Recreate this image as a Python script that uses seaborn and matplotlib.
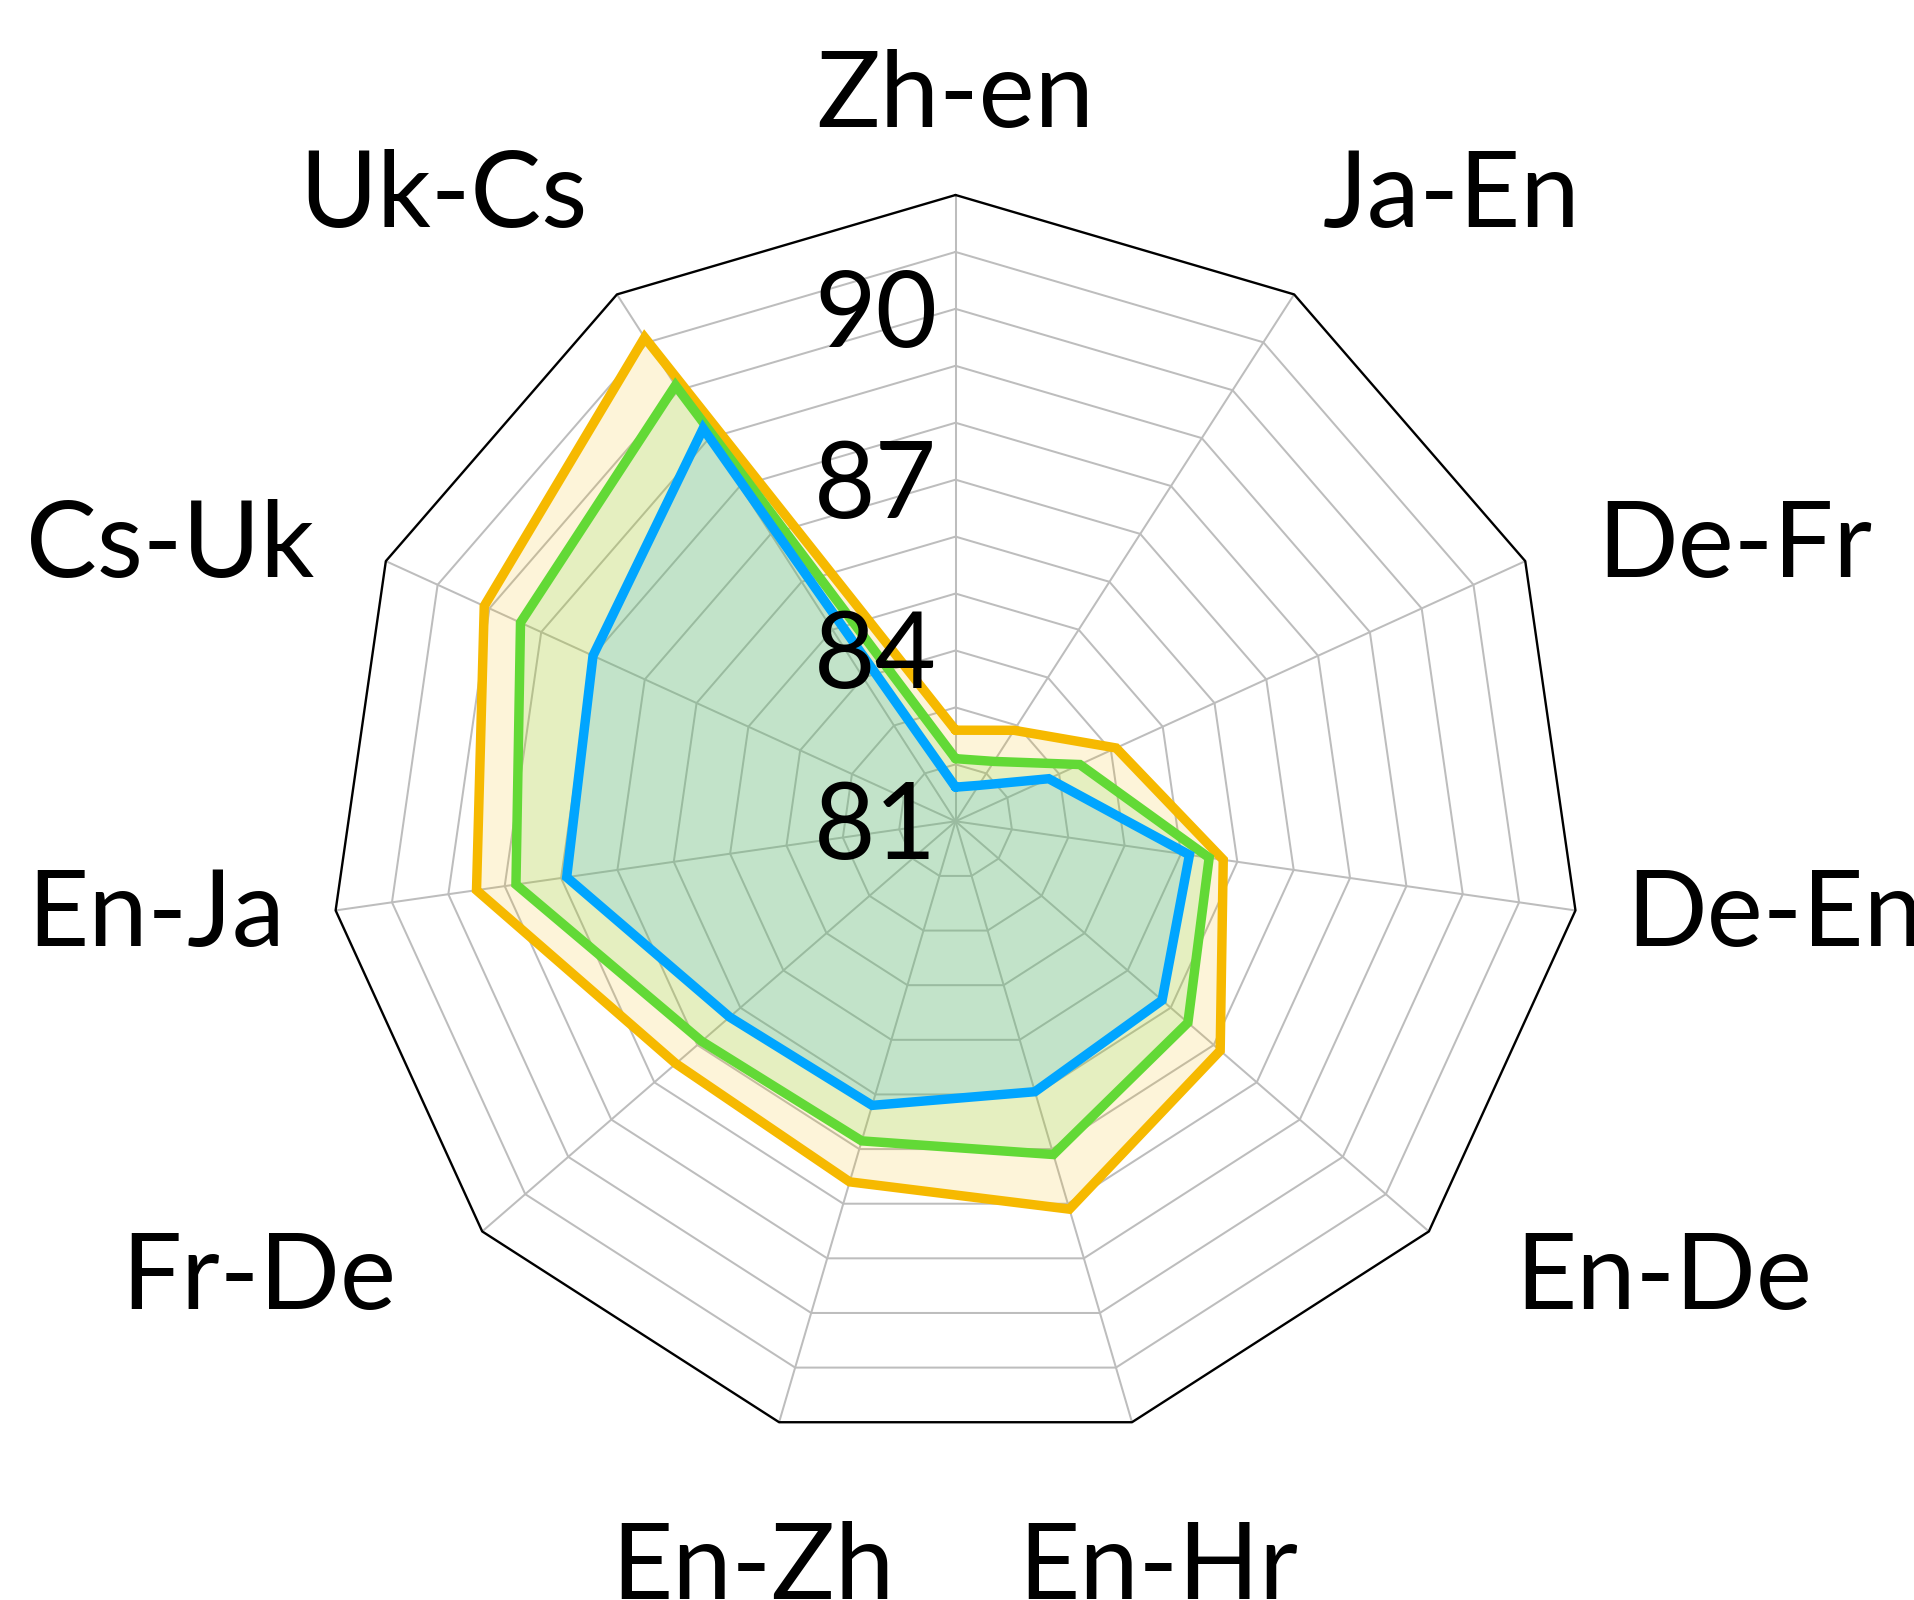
import numpy as np
import pandas as pd
import matplotlib
matplotlib.use("Agg")
import matplotlib.pyplot as plt
import seaborn as sns

# language pairs, clockwise from the top
pairs = ["Zh-en", "Ja-En", "De-Fr", "De-En", "En-De", "En-Hr",
         "En-Zh", "Fr-De", "En-Ja", "Cs-Uk", "Uk-Cs"]

# scores (outer -> inner polygon)
yellow = [82.6, 82.9, 84.1, 85.75, 87.15, 88.1, 87.6, 87.5, 89.5, 90.1, 91.1]
green = [82.1, 82.25, 83.4, 85.5, 86.4, 87.1, 86.85, 86.9, 88.8, 89.4, 90.1]
blue = [81.6, 81.75, 82.8, 85.15, 85.8, 85.95, 86.2, 86.25, 87.9, 88.0, 89.2]

series = ["yellow", "green", "blue"]
r_min, r_max = 81, 92
tick_vals = [81, 84, 87, 90]

colores = {"yellow": "#F6B900", "green": "#62D936", "blue": "#00A5FF"}

# label placement relative to each outer vertex (pixels, image y down)
label_ha = ["center", "left", "left", "left", "left", "center",
            "center", "right", "right", "right", "right"]
label_dx = [0, 29, 72, 51, 86, 26, -26, -86, -51, -72, -29]
label_dy = [-68, -67, 16, 36, 78, 177, 177, 78, 36, 16, -67]

sns.set_style("white")
plt.rcParams["font.family"] = ["Lato", "DejaVu Sans"]

n = len(pairs)
angles = np.linspace(0, 2 * np.pi, n, endpoint=False)
ang_closed = np.append(angles, angles[0])

# long table for seaborn
filas = []
for name, vals in zip(series, [yellow, green, blue]):
    for k, a in enumerate(ang_closed):
        filas.append({"serie": name, "ang": a, "score": vals[k % n], "orden": k})
datos = pd.DataFrame(filas)

dpi = 100
fig = plt.figure(figsize=(19.14, 16), dpi=dpi)
ax = fig.add_axes([0.17202, 0.09525, 0.65444, 0.78288], projection="polar")
ax.set_theta_zero_location("N")
ax.set_theta_direction(-1)
ax.set_ylim(r_min, r_max)
ax.grid(False)
ax.spines["polar"].set_visible(False)
ax.set_xticks([])
ax.set_yticks([])
ax.patch.set_alpha(0)

# polygon grid
for v in range(r_min + 1, r_max):
    ax.plot(ang_closed, [v] * len(ang_closed), color="#BDBDBD", lw=1.45, zorder=0.5)
for a in angles:
    ax.plot([a, a], [r_min, r_max], color="#BDBDBD", lw=1.45, zorder=0.5)
ax.plot(ang_closed, [r_max] * len(ang_closed), color="black", lw=1.7,
        zorder=0.6, clip_on=False)

# fills first, then outlines
for name in series:
    d = datos[datos.serie == name]
    ax.fill(d["ang"], d["score"], color=colores[name], alpha=0.15, lw=0, zorder=1)

sns.lineplot(data=datos, x="ang", y="score", hue="serie", units="serie",
             estimator=None, sort=False, palette=colores, hue_order=series,
             lw=6.8, legend=False, ax=ax, zorder=2)
for l in ax.lines[-3:]:
    l.set_solid_joinstyle("miter")
ax.set_xlabel("")
ax.set_ylabel("")

fs = 76.4
px = 72.0 / dpi
for k, a in enumerate(angles):
    ax.annotate(pairs[k], (a, r_max), xytext=(label_dx[k] * px, -label_dy[k] * px),
                textcoords="offset points", ha=label_ha[k], va="baseline",
                fontsize=fs, color="black", annotation_clip=False, zorder=5)

for v in tick_vals:
    ax.annotate(str(v), (0, v), xytext=(-18.5 * px, -38 * px),
                textcoords="offset points", ha="right", va="baseline",
                fontsize=fs, color="black", zorder=5)

fig.savefig("out.png", dpi=dpi, facecolor="white")
